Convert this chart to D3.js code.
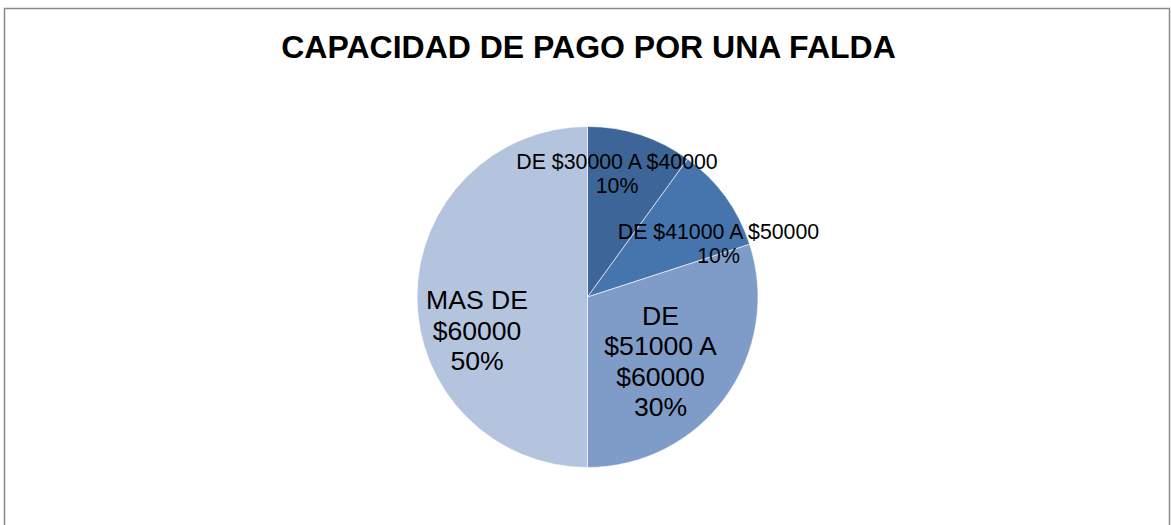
<!DOCTYPE html>
<html>
<head>
<meta charset="utf-8">
<script src="https://cdn.jsdelivr.net/npm/d3@7/dist/d3.min.js"></script>
<style>
html,body{margin:0;padding:0;background:#fff;}
svg{display:block;}
text{font-family:Arial,"Liberation Sans",sans-serif;fill:#000;}
</style>
</head>
<body>
<svg id="chart" width="1171" height="525"></svg>
<script>
// ---- data ----
const title = "CAPACIDAD DE PAGO POR UNA FALDA";
const categories = ["DE $30000 A $40000", "DE $41000 A $50000", "DE $51000 A $60000", "MAS DE $60000"];
const values = [10, 10, 30, 50];
const percentLabels = ["10%", "10%", "30%", "50%"];
const colors = ["#3d6597", "#4675ad", "#7f9cc8", "#b4c4de"];

// ---- layout (not data) ----
const W = 1171, H = 525;
const cx = 587.5, cy = 297, R = 170.5;
const labelFont = [21.3, 21.3, 26.6, 26.6];
const labelWrap = [400, 400, 120, 120];
const labelCenters = [[617, 175], [718.5, 245], [660.5, 363], [477, 332]];

const svg = d3.select("#chart");

svg.append("rect")
  .attr("x", 4.5).attr("y", 8.5)
  .attr("width", 1165).attr("height", 540)
  .attr("fill", "#fff").attr("stroke", "#8a8a8a").attr("stroke-width", 1.5);

svg.append("text")
  .attr("x", 588.5).attr("y", 58)
  .attr("text-anchor", "middle")
  .style("font-size", "32px").style("font-weight", "bold")
  .text(title);

const pie = d3.pie().sort(null).value(d => d)(values);
const arc = d3.arc().innerRadius(0).outerRadius(R);

const g = svg.append("g").attr("transform", `translate(${cx},${cy})`);
g.selectAll("path").data(pie).join("path")
  .attr("d", arc)
  .attr("fill", (d, i) => colors[i])
  .attr("stroke", "#fff").attr("stroke-width", 0.6);

function wrap(text, fs, maxW) {
  const ctx = document.createElement("canvas").getContext("2d");
  ctx.font = fs + "px Arial, 'Liberation Sans'";
  const words = text.split(" ");
  const lines = [];
  let cur = "";
  words.forEach(w => {
    const t = cur ? cur + " " + w : w;
    if (ctx.measureText(t).width > maxW && cur) { lines.push(cur); cur = w; }
    else cur = t;
  });
  if (cur) lines.push(cur);
  return lines;
}

pie.forEach((d, i) => {
  const fs = labelFont[i];
  const lines = wrap(categories[i], fs, labelWrap[i]).concat([percentLabels[i]]);
  const lh = fs * 1.15;
  const [lx, ly] = [labelCenters[i][0] - cx, labelCenters[i][1] - cy];
  const t = g.append("text")
    .attr("text-anchor", "middle")
    .style("font-size", fs + "px");
  const top = ly - (lines.length * lh) / 2 + fs * 0.86;
  lines.forEach((l, k) => {
    t.append("tspan").attr("x", lx).attr("y", top + k * lh).text(l);
  });
});
</script>
</body>
</html>
